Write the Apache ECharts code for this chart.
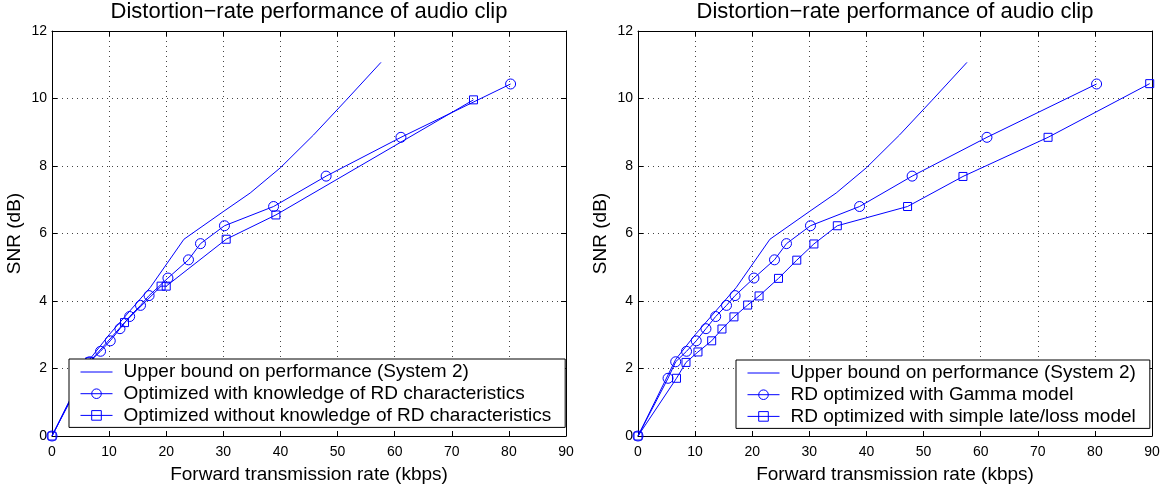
<!DOCTYPE html>
<html>
<head>
<meta charset="utf-8">
<script src="https://cdn.jsdelivr.net/npm/echarts@6/dist/echarts.min.js"></script>
<style>
  html, body { margin: 0; padding: 0; background: #fff; }
  #chart { width: 1167px; height: 487px; }
</style>
</head>
<body>
<div id="chart"></div>
<script>
// upper bound (same curve in both panels)
var upperX = [0, 6.6, 10, 17.2, 23.1, 30, 34.7, 40, 45.8, 51.5, 57.6]
var upperY = [0, 2.27, 3.0, 4.4, 5.83, 6.65, 7.2, 7.95, 8.92, 9.95, 11.07]

// optimized with knowledge of RD / Gamma model (circles)
var gammaX = [0, 5.26, 6.6, 8.5, 10.2, 11.9, 13.6, 15.5, 17.0, 20.3, 23.9, 26.0, 30.2, 38.8, 48.0, 61.1, 80.3]
var gammaY = [0, 1.71, 2.2, 2.51, 2.82, 3.18, 3.54, 3.87, 4.16, 4.68, 5.22, 5.70, 6.23, 6.80, 7.70, 8.85, 10.43]

// optimized without knowledge of RD (left, squares)
var noKnowX = [0, 6.6, 12.7, 19.1, 20.0, 30.5, 39.2, 73.8]
var noKnowY = [0, 2.2, 3.36, 4.44, 4.44, 5.83, 6.55, 9.96]

// simple late/loss model (right, squares)
var lateLossX = [0, 6.74, 8.4, 10.5, 12.9, 14.7, 16.8, 19.2, 21.2, 24.6, 27.8, 30.8, 34.9, 47.2, 56.9, 71.8, 89.6]
var lateLossY = [0, 1.71, 2.18, 2.49, 2.82, 3.17, 3.53, 3.88, 4.15, 4.67, 5.21, 5.69, 6.23, 6.80, 7.69, 8.85, 10.44]

var titleText = 'Distortion\u2212rate performance of audio clip'
var xName = 'Forward transmission rate (kbps)'
var yName = 'SNR (dB)'
var nameUpper = 'Upper bound on performance (System 2)'
var leftNames = [nameUpper, 'Optimized with knowledge of RD characteristics', 'Optimized without knowledge of RD characteristics']
var rightNames = [nameUpper, 'RD optimized with Gamma model', 'RD optimized with simple late/loss model']

var FONT = 'Liberation Sans, Arial, Helvetica, sans-serif'
var BLUE = '#0000ff'

function pairs(xs, ys) {
  return xs.map(function(x, i) { return [x, ys[i]] })
}

function mainX(gi) {
  return {
    type: 'value', gridIndex: gi, min: 0, max: 90, interval: 10,
    name: xName, nameLocation: 'middle', nameGap: 29,
    nameTextStyle: { fontFamily: FONT, fontSize: 19, color: '#000' },
    axisLine: { onZero: false, lineStyle: { color: '#000', width: 1 } },
    axisTick: { inside: true, length: 5, lineStyle: { color: '#000' } },
    axisLabel: { fontFamily: FONT, fontSize: 14, color: '#000', margin: 9 },
    splitLine: { show: true, lineStyle: { color: '#444', type: [1, 4], width: 1 } }
  }
}
function topX(gi) {
  return {
    type: 'value', gridIndex: gi, position: 'top', min: 0, max: 90, interval: 10,
    axisLine: { onZero: false, lineStyle: { color: '#000', width: 1 } },
    axisTick: { inside: true, length: 5, lineStyle: { color: '#000' } },
    axisLabel: { show: false }, splitLine: { show: false }
  }
}
function mainY(gi) {
  return {
    type: 'value', gridIndex: gi, min: 0, max: 12, interval: 2,
    name: yName, nameLocation: 'middle', nameGap: 28,
    nameTextStyle: { fontFamily: FONT, fontSize: 19, color: '#000' },
    axisLine: { show: true, onZero: false, lineStyle: { color: '#000', width: 1 } },
    axisTick: { show: true, inside: true, length: 5, lineStyle: { color: '#000' } },
    axisLabel: { fontFamily: FONT, fontSize: 14, color: '#000', margin: 5 },
    splitLine: { show: true, lineStyle: { color: '#444', type: [1, 4], width: 1 } }
  }
}
function rightY(gi) {
  return {
    type: 'value', gridIndex: gi, position: 'right', min: 0, max: 12, interval: 2,
    axisLine: { show: true, onZero: false, lineStyle: { color: '#000', width: 1 } },
    axisTick: { show: true, inside: true, length: 5, lineStyle: { color: '#000' } },
    axisLabel: { show: false }, splitLine: { show: false }
  }
}

function lineSeries(name, data, axisIdx, symbol, size) {
  return {
    name: name, type: 'line', data: data,
    xAxisIndex: axisIdx, yAxisIndex: axisIdx,
    symbol: symbol || 'circle', symbolSize: size || 0,
    showSymbol: !!symbol,
    lineStyle: { color: BLUE, width: 1 },
    itemStyle: { color: 'none', borderColor: symbol ? BLUE : 'none', borderWidth: symbol ? 1 : 0 },
    emphasis: { disabled: true },
    z: 2
  }
}

function legendBox(left, top, names) {
  return {
    orient: 'vertical', left: left, top: top, data: names,
    backgroundColor: '#fff', borderColor: '#000', borderWidth: 1,
    padding: [3, 14, 2, 11], itemGap: 1.7, itemWidth: 32, itemHeight: 12,
    lineStyle: { width: 1 },
    itemStyle: { borderWidth: 1 },
    textStyle: { fontFamily: FONT, fontSize: 19, lineHeight: 20, color: '#000', padding: [0, 0, 0, 6] },
    selectedMode: false, z: 10
  }
}

var chart = echarts.init(document.getElementById('chart'))
chart.setOption({
  animation: false,
  backgroundColor: '#fff',
  title: [
    { text: titleText, left: 309, top: 1, padding: 0, textAlign: 'center',
      textStyle: { fontFamily: FONT, fontSize: 22, fontWeight: 'normal', color: '#000' } },
    { text: titleText, left: 895, top: 1, padding: 0, textAlign: 'center',
      textStyle: { fontFamily: FONT, fontSize: 22, fontWeight: 'normal', color: '#000' } }
  ],
  grid: [
    { left: 52, top: 31, width: 514, height: 405, outerBoundsMode: 'none' },
    { left: 638, top: 31, width: 514, height: 405, outerBoundsMode: 'none' }
  ],
  xAxis: [mainX(0), mainX(1), topX(0), topX(1)],
  yAxis: [mainY(0), mainY(1), rightY(0), rightY(1)],
  legend: [legendBox(69, 359, leftNames), legendBox(736, 360, rightNames)],
  series: [
    lineSeries(leftNames[0], pairs(upperX, upperY), 0),
    lineSeries(leftNames[1], pairs(gammaX, gammaY), 0, 'circle', 10),
    lineSeries(leftNames[2], pairs(noKnowX, noKnowY), 0, 'rect', 8),
    lineSeries(rightNames[0], pairs(upperX, upperY), 1),
    lineSeries(rightNames[1], pairs(gammaX, gammaY), 1, 'circle', 10),
    lineSeries(rightNames[2], pairs(lateLossX, lateLossY), 1, 'rect', 8)
  ]
})
</script>
</body>
</html>
